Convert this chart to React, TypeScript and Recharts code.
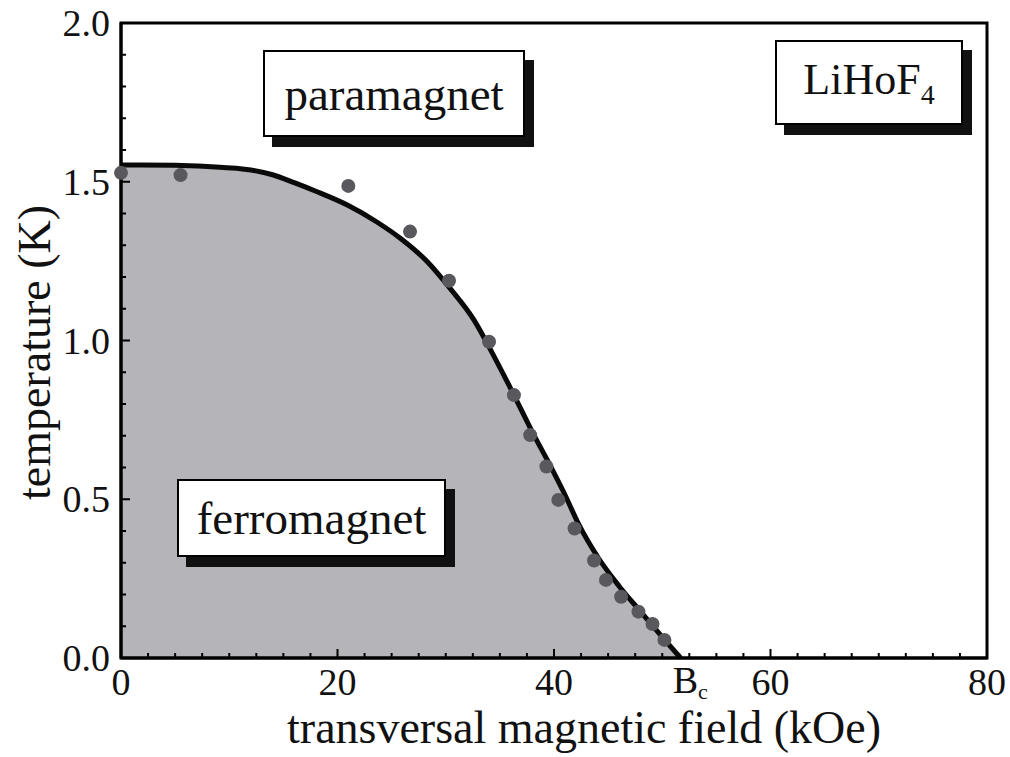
import {
  Area,
  ComposedChart,
  ReferenceArea,
  Scatter,
  XAxis,
  YAxis,
} from "recharts";

// phase boundary (mean-field curve), field in kOe, temperature in K
const curveField = [0, 5, 8, 12, 14, 16, 18, 21, 23.6, 25.8, 28.3, 30.4, 32.6, 34.4, 36.3, 38.1, 39.7, 40.9, 42.3, 44.1, 46, 48, 50, 51.7];
const curveTemp = [1.553, 1.552, 1.548, 1.537, 1.522, 1.497, 1.47, 1.425, 1.374, 1.322, 1.248, 1.164, 1.065, 0.954, 0.828, 0.705, 0.603, 0.522, 0.42, 0.315, 0.227, 0.146, 0.066, 0];

// measured points
const pointField = [0, 5.5, 21.0, 26.7, 30.3, 34.0, 36.3, 37.8, 39.3, 40.4, 41.9, 43.7, 44.8, 46.2, 47.8, 49.1, 50.2];
const pointTemp = [1.528, 1.521, 1.487, 1.343, 1.188, 0.996, 0.828, 0.702, 0.603, 0.498, 0.408, 0.307, 0.246, 0.193, 0.146, 0.107, 0.057];

const BC = 51.7; // critical field
const xMajor = [0, 20, 40, 60, 80];
const xTicks = [...Array.from({ length: 33 }, (_, i) => i * 2.5), BC];
const yTicks = Array.from({ length: 21 }, (_, i) => i / 10);

const curve = curveField.map((b, i) => ({ b, t: curveTemp[i] }));
const points = pointField.map((b, i) => ({ b, t: pointTemp[i] }));

const FONT = "'Liberation Serif', 'Times New Roman', serif";

// eslint-disable-next-line @typescript-eslint/no-explicit-any
function XTick({ x, y, payload }: any) {
  const v = payload.value;
  if (v === BC) {
    return (
      <text x={x - 8} y={y + 35} textAnchor="start" fontFamily={FONT} fontSize={38} fill="#111">
        B<tspan fontSize={22} dy={6}>c</tspan>
      </text>
    );
  }
  const major = xMajor.includes(v);
  return (
    <g>
      <line x1={x} x2={x} y1={y} y2={y - (major ? 9 : 5)} stroke="#000" strokeWidth={2} />
      {major && (
        <text x={x} y={y + 37} textAnchor="middle" fontFamily={FONT} fontSize={38} fill="#111">
          {v}
        </text>
      )}
    </g>
  );
}

// eslint-disable-next-line @typescript-eslint/no-explicit-any
function YTick({ x, y, payload }: any) {
  const v = payload.value;
  const major = Math.abs(v * 2 - Math.round(v * 2)) < 1e-6;
  return (
    <g>
      <line x1={x} x2={x + (major ? 9 : 5)} y1={y} y2={y} stroke="#000" strokeWidth={2} />
      {major && (
        <text x={x - 11} y={y + 13} textAnchor="end" fontFamily={FONT} fontSize={38} fill="#111">
          {v.toFixed(1)}
        </text>
      )}
    </g>
  );
}

// eslint-disable-next-line @typescript-eslint/no-explicit-any
function Dot(props: any) {
  return <circle cx={props.cx} cy={props.cy} r={7} fill="#58585d" />;
}

function Box({
  left,
  top,
  width,
  height,
  children,
}: {
  left: number;
  top: number;
  width: number;
  height: number;
  children: React.ReactNode;
}) {
  return (
    <div
      style={{
        position: "absolute",
        left,
        top,
        width,
        height,
        boxSizing: "border-box",
        border: "2px solid #000",
        background: "#fff",
        boxShadow: "9px 10px 0 #111",
        display: "flex",
        alignItems: "center",
        justifyContent: "center",
        fontFamily: FONT,
        fontSize: 47,
        color: "#111",
      }}
    >
      {children}
    </div>
  );
}

export default function App() {
  return (
    <div style={{ position: "absolute", left: 0, top: 0, width: 1010, height: 757, background: "#fff" }}>
      <ComposedChart
        width={1010}
        height={757}
        data={curve}
        margin={{ top: 23, right: 23, bottom: 0, left: 0 }}
      >
        <XAxis
          dataKey="b"
          type="number"
          domain={[0, 80]}
          ticks={xTicks}
          interval={0}
          height={99}
          tickSize={0}
          tickMargin={0}
          tickLine={false}
          axisLine={{ stroke: "#000", strokeWidth: 3 }}
          tick={<XTick />}
          label={{
            content: ({ viewBox }: any) => (
              <text
                x={viewBox.x + viewBox.width / 2 + 30}
                y={viewBox.y + 85}
                textAnchor="middle"
                fontFamily={FONT}
                fontSize={46}
                fill="#111"
              >
                transversal magnetic field (kOe)
              </text>
            ),
          }}
        />
        <YAxis
          dataKey="t"
          type="number"
          domain={[0, 2]}
          ticks={yTicks}
          interval={0}
          width={121}
          tickSize={0}
          tickMargin={0}
          tickLine={false}
          axisLine={{ stroke: "#000", strokeWidth: 3 }}
          tick={<YTick />}
          label={{
            content: ({ viewBox }: any) => {
              const cx = viewBox.x + 50;
              const cy = viewBox.y + viewBox.height / 2 + 12;
              return (
                <text
                  x={cx}
                  y={cy}
                  transform={`rotate(-90, ${cx}, ${cy})`}
                  textAnchor="middle"
                  fontFamily={FONT}
                  fontSize={46}
                  fill="#111"
                >
                  temperature (K)
                </text>
              );
            },
          }}
        />
        <Area
          type="monotone"
          dataKey="t"
          stroke="#0a0a0a"
          strokeWidth={5}
          fill="#b4b4b9"
          fillOpacity={1}
          dot={false}
          activeDot={false}
          isAnimationActive={false}
        />
        <ReferenceArea x1={0} x2={80} y1={0} y2={2} fill="none" stroke="#000" strokeWidth={3} />
        <Scatter data={points} dataKey="t" shape={<Dot />} isAnimationActive={false} />
      </ComposedChart>

      <Box left={263} top={50} width={262} height={87}>
        paramagnet
      </Box>
      <Box left={775} top={40} width={188} height={85}>
        <span style={{ fontSize: 44 }}>
          LiHoF<sub style={{ fontSize: 28, verticalAlign: "-10px" }}>4</sub>
        </span>
      </Box>
      <Box left={177} top={479} width={269} height={78}>
        ferromagnet
      </Box>
    </div>
  );
}
